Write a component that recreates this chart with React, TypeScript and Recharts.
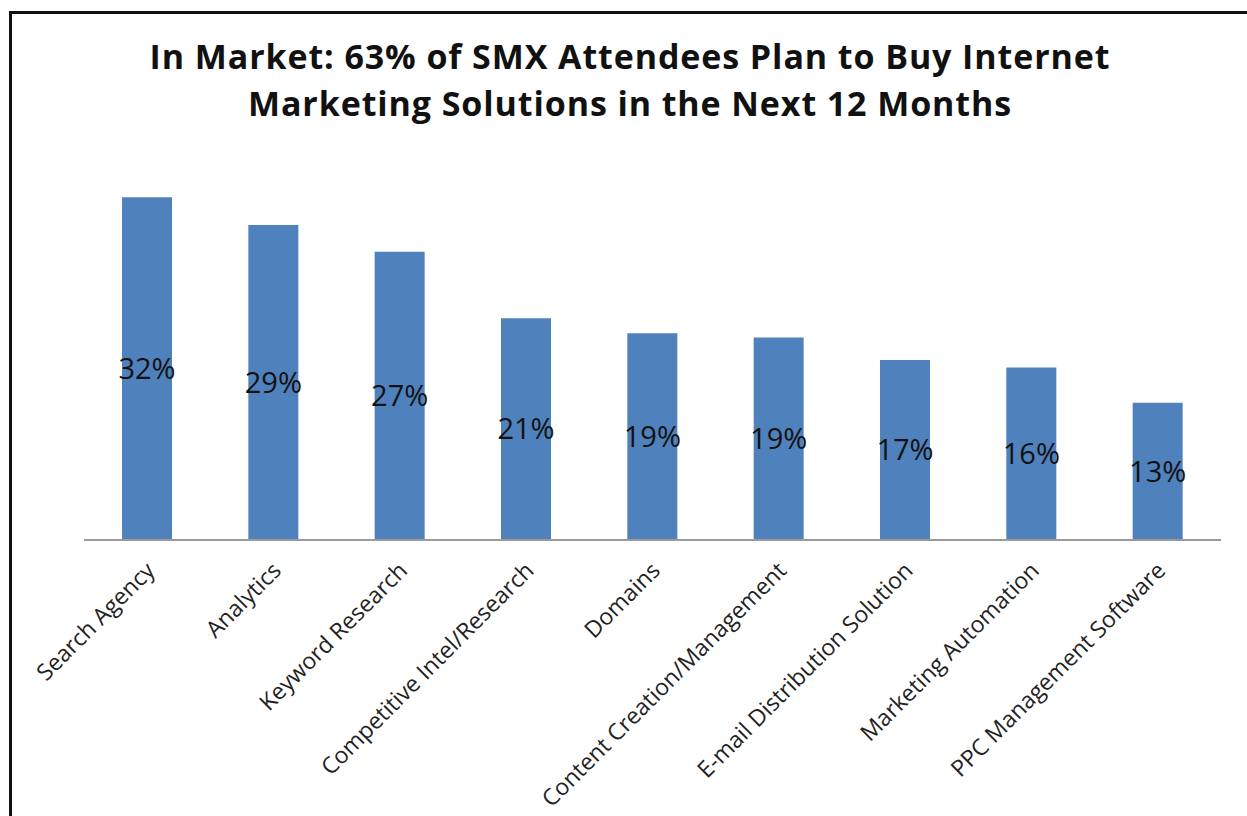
import React from "react";
import { BarChart, Bar, XAxis, YAxis, LabelList } from "recharts";

const categories = [
  "Search Agency",
  "Analytics",
  "Keyword Research",
  "Competitive Intel/Research",
  "Domains",
  "Content Creation/Management",
  "E-mail Distribution Solution",
  "Marketing Automation",
  "PPC Management Software",
];

// percent of attendees
const shares = [32, 29.4, 26.9, 20.7, 19.3, 18.9, 16.8, 16.1, 12.8];

const titleLines = [
  "In Market: 63% of SMX Attendees Plan to Buy Internet",
  "Marketing Solutions in the Next 12 Months",
];

const data = categories.map((name, i) => ({ name, share: shares[i] }));

const FONT = "'Open Sans', sans-serif";

const AngledTick = (props: any) => {
  const { x, y, payload } = props;
  return (
    <g transform={`translate(${x + 9},${y + 24})`}>
      <text
        transform="rotate(-45)"
        textAnchor="end"
        fontFamily={FONT}
        fontSize={23}
        fill="#222"
      >
        {payload.value}
      </text>
    </g>
  );
};

export default function App() {
  return (
    <div
      style={{
        position: "fixed",
        left: 0,
        top: 0,
        width: 1247,
        height: 816,
        overflow: "hidden",
        background: "#fff",
      }}
    >
      <div
        style={{
          position: "absolute",
          left: 9,
          top: 11,
          width: 1400,
          height: 1000,
          border: "3px solid #111",
        }}
      />
      {titleLines.map((line, i) => (
        <div
          key={i}
          style={{
            position: "absolute",
            left: 0,
            width: 1260,
            top: 34 + i * 47,
            textAlign: "center",
            fontFamily: FONT,
            fontWeight: 700,
            fontSize: 34,
            letterSpacing: 0.9,
            lineHeight: "44px",
            color: "#111",
            whiteSpace: "nowrap",
          }}
        >
          {line}
        </div>
      ))}
      <div style={{ position: "absolute", left: 0, top: 0 }}>
        <BarChart
          width={1247}
          height={816}
          data={data}
          margin={{ top: 165, right: 26, left: 84, bottom: 0 }}
        >
          <YAxis hide width={0} domain={[0, 35]} />
          <XAxis
            dataKey="name"
            interval={0}
            height={276}
            tickLine={false}
            axisLine={{ stroke: "#9a9a9a", strokeWidth: 2 }}
            tick={<AngledTick />}
          />
          <Bar dataKey="share" fill="#4F81BD" barSize={50} isAnimationActive={false}>
            <LabelList
              dataKey="share"
              position="center"
              formatter={(v: any) => `${Math.round(Number(v))}%`}
              fontFamily={FONT}
              fontSize={29}
              fill="#111"
            />
          </Bar>
        </BarChart>
      </div>
    </div>
  );
}
